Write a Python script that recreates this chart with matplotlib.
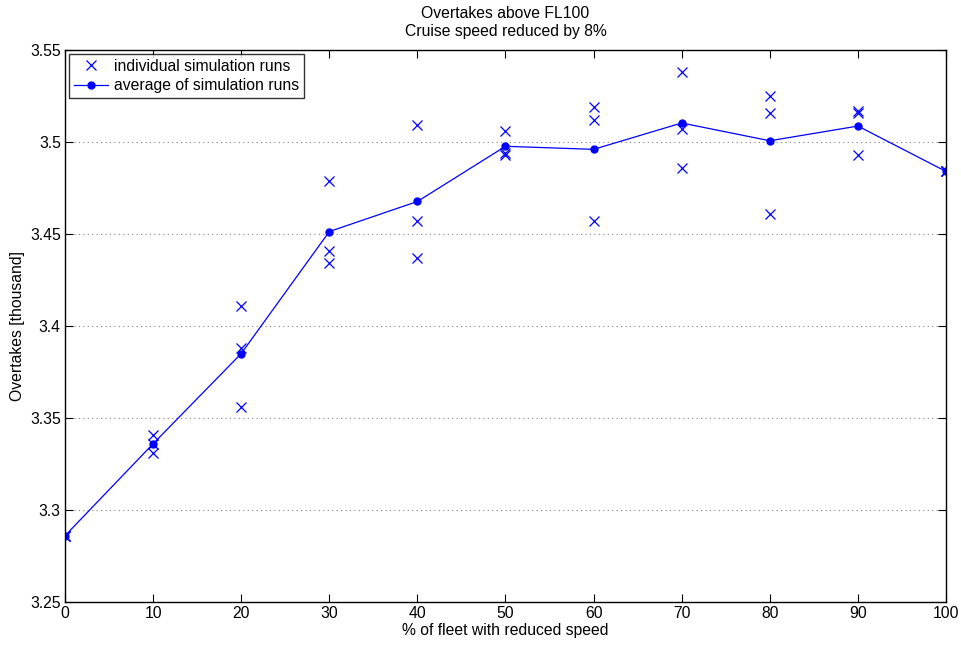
import numpy as np
import matplotlib
matplotlib.use("Agg")
import matplotlib.pyplot as plt

plt.rcParams['font.family'] = ['Liberation Sans', 'DejaVu Sans']

# % of fleet with reduced speed
fleet_pct = [0, 10, 20, 30, 40, 50, 60, 70, 80, 90, 100]

# individual simulation runs (thousand overtakes)
runs = [
    [3.286, 3.286, 3.286],
    [3.341, 3.336, 3.331],
    [3.411, 3.388, 3.356],
    [3.479, 3.441, 3.434],
    [3.509, 3.457, 3.437],
    [3.506, 3.494, 3.493],
    [3.519, 3.512, 3.457],
    [3.538, 3.507, 3.486],
    [3.525, 3.516, 3.461],
    [3.517, 3.516, 3.493],
    [3.484, 3.484, 3.484],
]

avg_runs = [np.mean(r) for r in runs]

fig = plt.figure(figsize=(9.62, 6.45), dpi=100)
ax = fig.add_axes([65 / 962, 1 - 602 / 645, 881 / 962, 552 / 645])

xs = []
ys = []
for p, r in zip(fleet_pct, runs):
    for v in r:
        xs.append(p)
        ys.append(v)

fs = 11.3

ax.plot(xs, ys, linestyle='none', marker='x', color='blue', markersize=6.5,
        markeredgewidth=0.9, label='individual simulation runs')
ax.plot(fleet_pct, avg_runs, color='blue', linewidth=0.9, marker='o',
        markersize=5, label='average of simulation runs')

ax.set_xlim(0, 100)
ax.set_ylim(3.25, 3.55)
ax.set_xticks(np.arange(0, 101, 10))
ax.set_yticks([3.25, 3.3, 3.35, 3.4, 3.45, 3.5, 3.55])
ax.set_yticklabels(['3.25', '3.3', '3.35', '3.4', '3.45', '3.5', '3.55'])
ax.tick_params(direction='in', top=True, right=True, labelsize=fs, length=6, width=0.8,
               pad=3)
ax.yaxis.grid(True, linestyle=(0, (1, 3)), color='gray', linewidth=0.8)
for s in ax.spines.values():
    s.set_linewidth(1.0)

ax.set_xlabel('% of fleet with reduced speed', fontsize=fs, labelpad=1)
ax.set_ylabel('Overtakes [thousand]', fontsize=fs, labelpad=4)
ax.set_title('Overtakes above FL100\nCruise speed reduced by 8%', fontsize=fs,
             linespacing=1.25, pad=10)

leg = ax.legend(loc='upper left', fontsize=fs, frameon=True, fancybox=False,
                borderaxespad=0.25, handlelength=2.2, borderpad=0.3,
                labelspacing=0.3, handletextpad=0.4)
leg.get_frame().set_edgecolor('black')
leg.get_frame().set_linewidth(1.0)

fig.savefig('out.png', dpi=100)
